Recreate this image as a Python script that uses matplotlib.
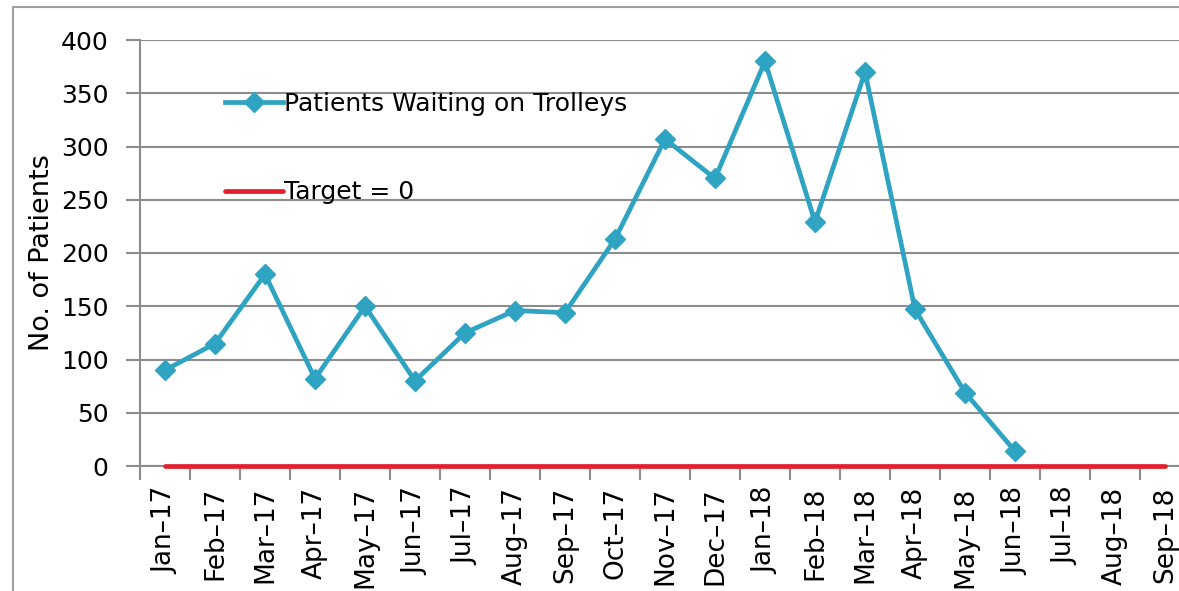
import matplotlib
matplotlib.use("Agg")
import matplotlib.pyplot as plt
from matplotlib.patches import Rectangle

months = ["Jan–17", "Feb–17", "Mar–17", "Apr–17", "May–17", "Jun–17", "Jul–17",
          "Aug–17", "Sep–17", "Oct–17", "Nov–17", "Dec–17", "Jan–18", "Feb–18",
          "Mar–18", "Apr–18", "May–18", "Jun–18", "Jul–18", "Aug–18", "Sep–18"]
trolleys = [90, 115, 180, 82, 150, 80, 125, 146, 144, 213, 307, 270, 380, 229,
            370, 147, 69, 14]
target = [0] * len(months)
yticks = [0, 50, 100, 150, 200, 250, 300, 350, 400]

W, H = 1179, 591
fig = plt.figure(figsize=(W / 100, H / 100), dpi=100)
plt.rcParams['font.family'] = ['DejaVu Sans']

# outer frame
fig.patches.append(Rectangle((13 / W, -0.2), 1.2, 1 - 7 / H + 0.2,
                             transform=fig.transFigure, fill=False,
                             edgecolor="#a0a0a0", linewidth=1.5))

left, right = 140 / W, 1190 / W
bottom, top = 1 - 466 / H, 1 - 40 / H
ax = fig.add_axes([left, bottom, right - left, top - bottom])

teal = "#2ea3c2"
red = "#e31e2d"
grid = "#8c8c8c"

x = list(range(len(months)))
ax.plot(x, target, color=red, lw=3.4, solid_capstyle="round", zorder=3,
        clip_on=False, label="Target = 0")
ax.plot(x[:len(trolleys)], trolleys, color=teal, lw=3.4, marker="D",
        markersize=10, zorder=4, clip_on=False, label="Patients Waiting on Trolleys")

ax.set_xlim(-0.5, len(months) - 0.5)
ax.set_ylim(0, 400)
ax.set_yticks(yticks)
ax.set_yticklabels([str(v) for v in yticks], fontsize=18)
ax.yaxis.grid(True, color=grid, lw=1.5)
ax.set_axisbelow(True)

ax.set_xticks(x)
ax.set_xticklabels(months, rotation=90, fontsize=19)
ax.set_xticks([i - 0.5 for i in range(len(months) + 1)], minor=True)
ax.tick_params(axis="x", which="major", length=0, pad=15)
ax.tick_params(axis="x", which="minor", length=10, width=1.5, color=grid, direction="out")
ax.tick_params(axis="y", length=10, width=1.5, color=grid, pad=12.5)

for s in ["top", "right"]:
    ax.spines[s].set_visible(False)
ax.spines["left"].set_color(grid)
ax.spines["left"].set_linewidth(1.5)
ax.spines["bottom"].set_color(grid)
ax.spines["bottom"].set_linewidth(1.5)

ax.set_ylabel("No. of Patients", fontsize=19.5, labelpad=4)

h, l = ax.get_legend_handles_labels()
ax.legend(h[::-1], l[::-1], loc="upper left",
          bbox_to_anchor=(225 / W, 1 - 92 / H), bbox_transform=fig.transFigure,
          frameon=False, fontsize=18, handlelength=2.3, handletextpad=0.08,
          labelspacing=2.58, borderpad=0, borderaxespad=0)

fig.savefig("out.png", dpi=100)
